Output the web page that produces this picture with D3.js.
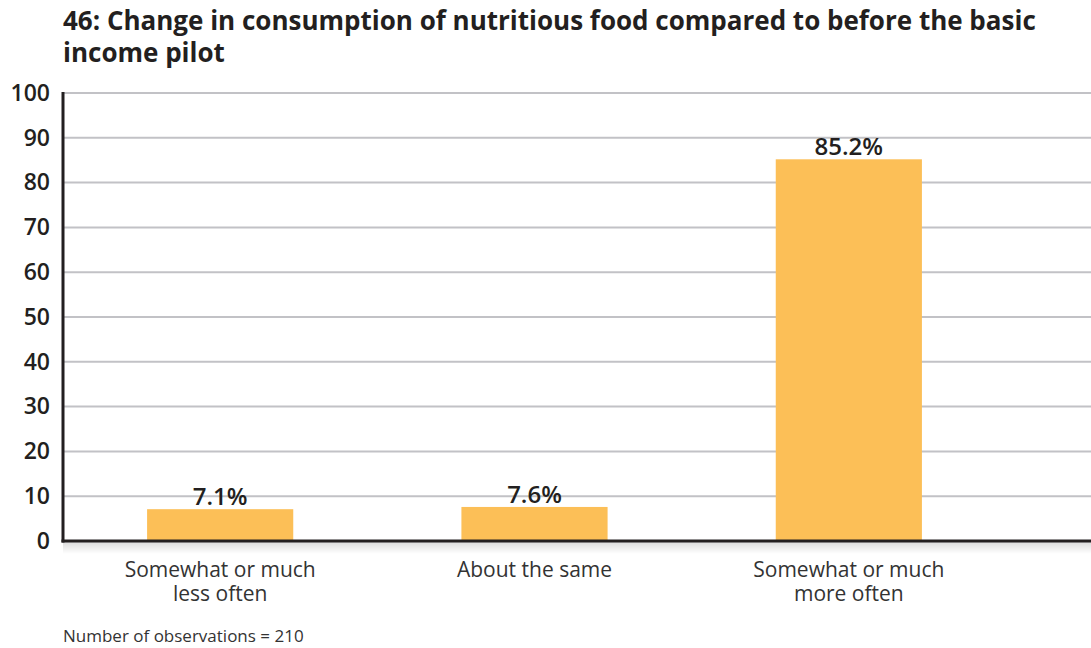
<!DOCTYPE html>
<html>
<head>
<meta charset="utf-8">
<script src="https://cdn.jsdelivr.net/npm/d3@7"></script>
<style>
  body { margin: 0; background: #fff; }
  svg text { font-family: "Open Sans", "Noto Sans", sans-serif; }
</style>
</head>
<body>
<div id="chart"></div>
<script>
// Data
const categories = ["Somewhat or much less often", "About the same", "Somewhat or much more often"];
const categoryLines = [["Somewhat or much", "less often"], ["About the same"], ["Somewhat or much", "more often"]];
const values = [7.1, 7.6, 85.2];
const yTicks = [0, 10, 20, 30, 40, 50, 60, 70, 80, 90, 100];
const titleLines = ["46: Change in consumption of nutritious food compared to before the basic", "income pilot"];
const footnote = "Number of observations = 210";

const W = 1091, H = 648;
const margin = { top: 93, right: 0, bottom: 107, left: 63 };

const svg = d3.select("#chart")
  .append("svg")
  .attr("width", W)
  .attr("height", H);

// Title, one text per line
svg.append("g")
  .selectAll("text")
  .data(titleLines)
  .enter().append("text")
  .attr("x", 63)
  .attr("y", (d, i) => 30 + i * 32)
  .attr("font-size", 26)
  .attr("font-weight", 700)
  .attr("fill", "#231f20")
  .text(d => d);

// Scales
const y = d3.scaleLinear()
  .domain([0, 100])
  .range([H - margin.bottom, margin.top]);

const x = d3.scaleBand()
  .domain(categories)
  .range([margin.left, 1006])
  .paddingInner(0.535)
  .paddingOuter(0.2675);

// Gridlines
svg.append("g")
  .selectAll("line")
  .data(yTicks.filter(d => d > 0))
  .enter().append("line")
  .attr("x1", margin.left)
  .attr("x2", W)
  .attr("y1", d => y(d))
  .attr("y2", d => y(d))
  .attr("stroke", "#c2c2c6")
  .attr("stroke-width", 2);

// Soft shadow under the baseline
const defs = svg.append("defs");
const grad = defs.append("linearGradient")
  .attr("id", "shadow")
  .attr("x1", 0).attr("y1", 0).attr("x2", 0).attr("y2", 1);
grad.append("stop").attr("offset", "0%").attr("stop-color", "#000").attr("stop-opacity", 0.14);
grad.append("stop").attr("offset", "100%").attr("stop-color", "#000").attr("stop-opacity", 0);

svg.append("rect")
  .attr("x", margin.left)
  .attr("y", y(0) + 1)
  .attr("width", W - margin.left)
  .attr("height", 12)
  .attr("fill", "url(#shadow)");

// Bars
svg.append("g")
  .selectAll("rect")
  .data(values)
  .enter().append("rect")
  .attr("x", (d, i) => x(categories[i]))
  .attr("y", d => y(d))
  .attr("width", x.bandwidth())
  .attr("height", d => y(0) - y(d))
  .attr("fill", "#fcbf57");

// Value labels
svg.append("g")
  .selectAll("text")
  .data(values)
  .enter().append("text")
  .attr("x", (d, i) => x(categories[i]) + x.bandwidth() / 2)
  .attr("y", d => y(d) - 4)
  .attr("text-anchor", "middle")
  .attr("font-size", 24)
  .attr("font-weight", 600)
  .attr("fill", "#231f20")
  .text(d => d.toFixed(1) + "%");

// Y axis
const yAxis = svg.append("g")
  .attr("transform", `translate(${margin.left},0)`)
  .call(d3.axisLeft(y).tickValues(yTicks).tickSize(0).tickPadding(13));
yAxis.select(".domain").remove();
yAxis.selectAll("text")
  .attr("font-family", "\"Open Sans\", sans-serif")
  .attr("font-size", 23)
  .attr("font-weight", 600)
  .attr("fill", "#231f20");

// Axis lines
svg.append("line")
  .attr("x1", margin.left).attr("x2", margin.left)
  .attr("y1", y(100) - 1).attr("y2", y(0) + 1.5)
  .attr("stroke", "#231f20").attr("stroke-width", 3);
svg.append("line")
  .attr("x1", margin.left - 1.5).attr("x2", W)
  .attr("y1", y(0)).attr("y2", y(0))
  .attr("stroke", "#231f20").attr("stroke-width", 3);

// Category labels, one text per line
const catLabels = [];
categories.forEach((c, i) => {
  categoryLines[i].forEach((t, j) => catLabels.push({ c, t, j }));
});
svg.append("g")
  .selectAll("text")
  .data(catLabels)
  .enter().append("text")
  .attr("x", d => x(d.c) + x.bandwidth() / 2)
  .attr("y", d => 577 + d.j * 24)
  .attr("text-anchor", "middle")
  .attr("font-size", 21)
  .attr("fill", "#333")
  .text(d => d.t);

// Footnote
svg.append("text")
  .attr("x", 63)
  .attr("y", 642)
  .attr("font-size", 17)
  .attr("fill", "#333")
  .text(footnote);
</script>
</body>
</html>
